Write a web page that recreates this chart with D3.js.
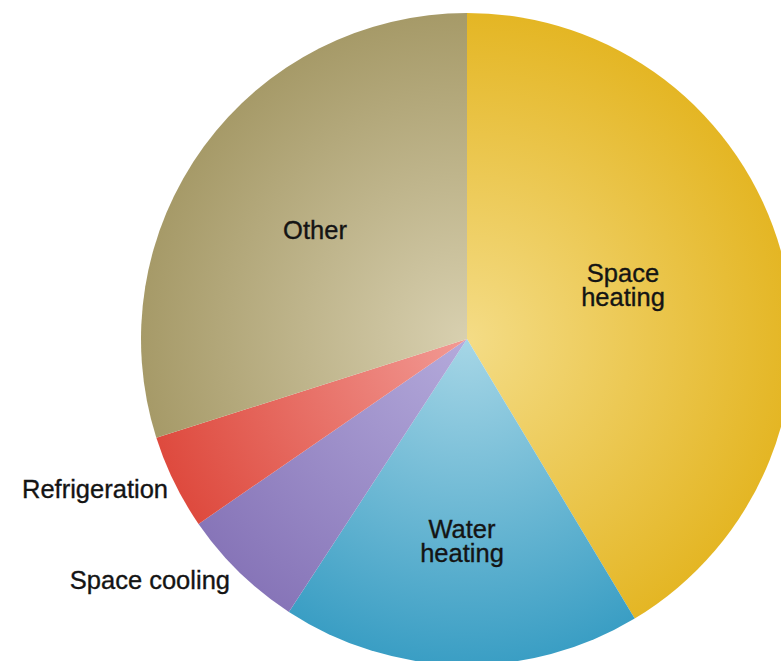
<!DOCTYPE html>
<html>
<head>
<meta charset="utf-8">
<script src="https://cdn.jsdelivr.net/npm/d3@7"></script>
<style>
  html, body { margin: 0; padding: 0; background: #fff; }
  svg { display: block; }
  text { font-family: "Liberation Sans", Arial, sans-serif; fill: #141414; stroke: #141414; stroke-width: 0.35px; }
</style>
</head>
<body>
<svg id="chart" width="781" height="661"></svg>
<script>
// Residential energy end-use shares (percent)
const categories = ["Space heating", "Water heating", "Space cooling", "Refrigeration", "Other"];
const shares = [41.4, 17.8, 6.2, 4.7, 29.9];
// inner (near centre) and outer rim colours of each slice
const innerColors = ["#f4dc86", "#a6d6e6", "#b4aadb", "#f29a94", "#d8d0b0"];
const outerColors = ["#e4b624", "#3a9ec4", "#8775b8", "#de4a3e", "#a69a68"];

const svg = d3.select("#chart");
const cx = 467, cy = 339, radius = 326;

const data = categories.map((c, i) => ({ name: c, value: shares[i], i }));

const pie = d3.pie().value(d => d.value).sort(null);
const arc = d3.arc().innerRadius(0).outerRadius(radius);

const defs = svg.append("defs");
data.forEach((d, i) => {
  const g = defs.append("radialGradient")
    .attr("id", "grad" + i)
    .attr("gradientUnits", "userSpaceOnUse")
    .attr("cx", 0).attr("cy", 0).attr("r", radius);
  g.append("stop").attr("offset", "0%").attr("stop-color", innerColors[i]);
  g.append("stop").attr("offset", "100%").attr("stop-color", outerColors[i]);
});

const g = svg.append("g").attr("transform", `translate(${cx},${cy})`);

const arcs = pie(data);
g.selectAll("path.slice")
  .data(arcs)
  .join("path")
  .attr("class", "slice")
  .attr("d", arc)
  .attr("fill", d => `url(#grad${d.data.i})`);

// Labels: inside slices for the large ones, outside (left) for the thin ones
const fontSize = 25.5;
const lineGap = 24;
const labelSpecs = {
  "Space heating": { lines: ["Space", "heating"], x: 623, y: 282, anchor: "middle" },
  "Water heating": { lines: ["Water", "heating"], x: 462, y: 538, anchor: "middle" },
  "Other":         { lines: ["Other"], x: 315, y: 239, anchor: "middle" },
  "Refrigeration": { lines: ["Refrigeration"], x: 168, y: 498, anchor: "end" },
  "Space cooling": { lines: ["Space cooling"], x: 230, y: 589, anchor: "end" }
};

categories.forEach(name => {
  const s = labelSpecs[name];
  const t = svg.append("text")
    .attr("x", s.x).attr("y", s.y)
    .attr("text-anchor", s.anchor)
    .attr("font-size", fontSize);
  s.lines.forEach((ln, k) => {
    t.append("tspan").attr("x", s.x).attr("dy", k === 0 ? 0 : lineGap).text(ln);
  });
});
</script>
</body>
</html>
